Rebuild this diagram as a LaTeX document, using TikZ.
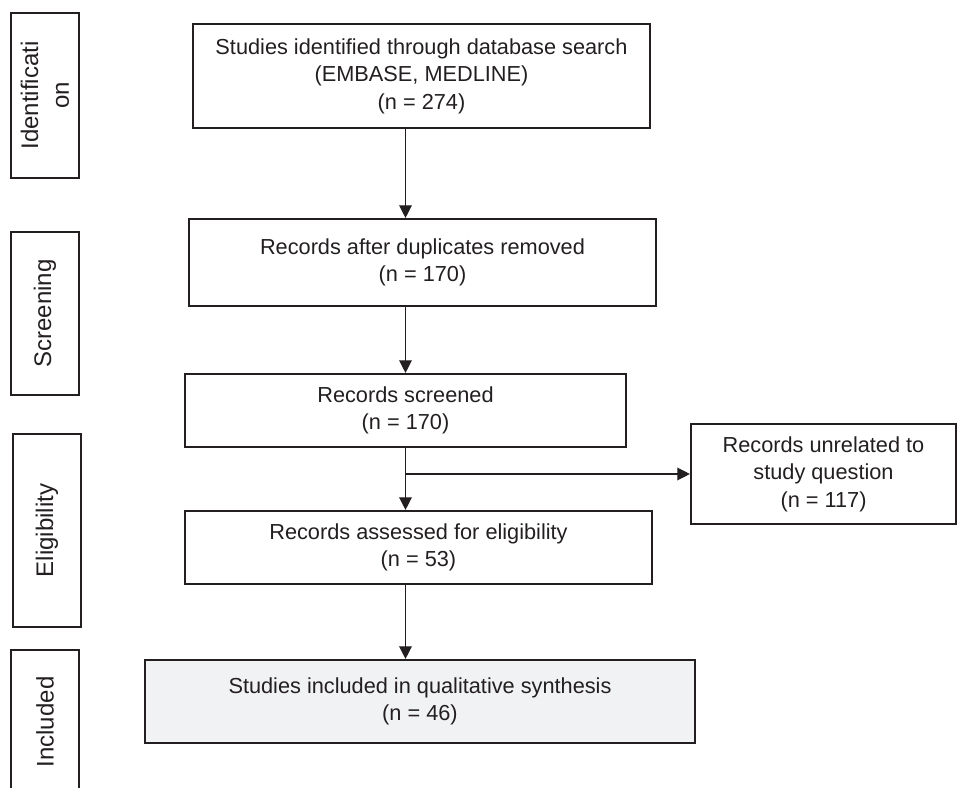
\documentclass[tikz,border=0pt]{standalone}
\usepackage{fontspec}
\setmainfont{Liberation Sans}
\usetikzlibrary{arrows.meta}

\definecolor{inkgray}{HTML}{231F20}
\definecolor{boxshade}{HTML}{F1F2F4}

\tikzset{
  stage/.style={draw=inkgray,line width=1.6pt,text=inkgray,align=center,inner sep=0pt,
    font=\fontsize{16.3}{20.6}\selectfont},
  phase/.style={stage,rotate=90,minimum height=51pt,font=\fontsize{18}{23}\selectfont},
  flow/.style={draw=inkgray,line width=1pt,-{Triangle[length=9.5pt,width=9.5pt]}}
}

\begin{document}
\begin{tikzpicture}[x=0.75pt,y=-0.75pt]
      \clip (0,0) rectangle (958,788);
      \useasboundingbox (0,0) rectangle (958,788);
      % phases on the left
      \node[phase,minimum width=123.75pt] (ident) at (45,95.5) {Identificati\\on};
      \node[phase,minimum width=122.25pt] (screen) at (45,313.5) {Screening};
      \node[phase,minimum width=144.75pt] (elig) at (47,530.5) {Eligibility};
      \node[phase,minimum width=108pt] (incl) at (45,722) {Included};
      % flow boxes
      \node[stage,minimum width=342.75pt,minimum height=78pt] (found) at (421.5,76)
        {Studies identified through database search\\(EMBASE, MEDLINE)\\(n = 274)};
      \node[stage,minimum width=350.25pt,minimum height=65.25pt] (dedup) at (422.5,262.5)
        {Records after duplicates removed\\(n = 170)};
      \node[stage,minimum width=330.75pt,minimum height=54.75pt] (screened) at (405.5,410.5)
        {Records screened\\(n = 170)};
      \node[stage,minimum width=198.75pt,minimum height=75pt] (unrel) at (823.5,474)
        {Records unrelated to\\study question\\(n = 117)};
      \node[stage,minimum width=350.25pt,minimum height=54.75pt] (assessed) at (418.5,547.5)
        {Records assessed for eligibility\\(n = 53)};
      \node[stage,fill=boxshade,minimum width=412.5pt,minimum height=62.25pt] (synth) at (420,701.5)
        {Studies included in qualitative synthesis\\(n = 46)};
      % connectors
      \coordinate (split) at (screened |- unrel);
      \draw[flow] (found.south -| screened) -- (dedup.north -| screened);
      \draw[flow] (dedup.south -| screened) -- (screened.north);
      \draw[flow] (screened.south) -- (assessed.north -| screened);
      \draw[flow] (split) -- (unrel.west);
      \draw[flow] (assessed.south -| screened) -- (synth.north -| screened);
    \end{tikzpicture}
\end{document}
